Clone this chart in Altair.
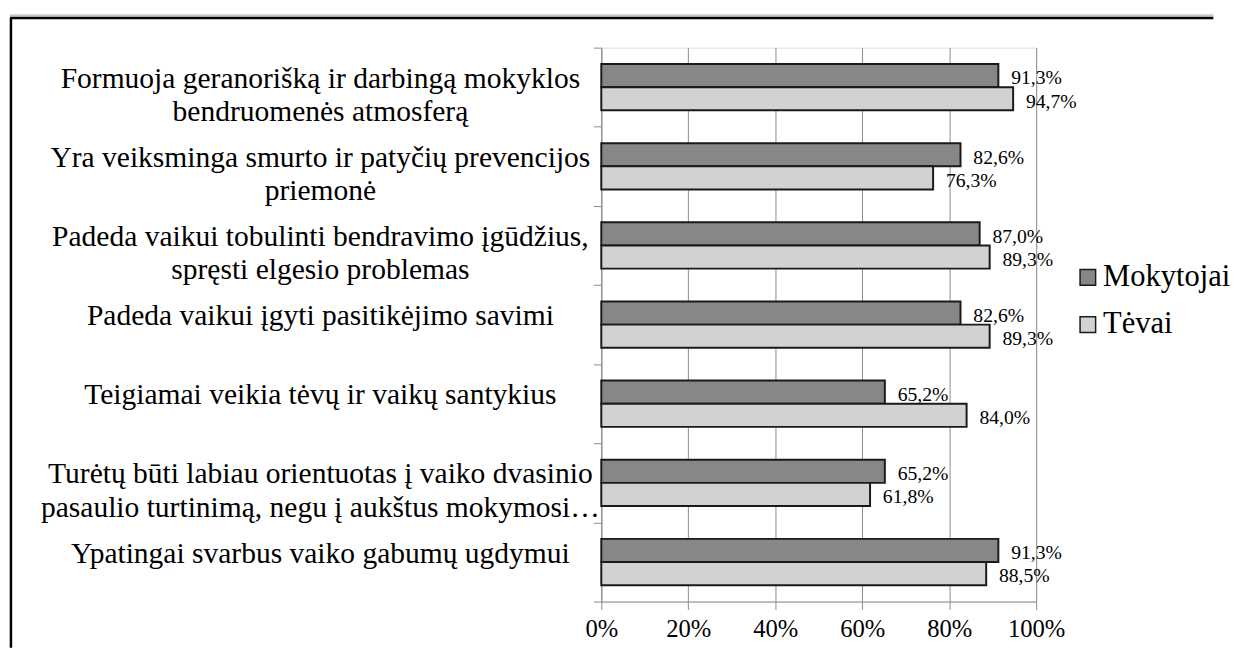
import altair as alt
import pandas as pd

categories = [
    "Formuoja geranorišką ir darbingą mokyklos|bendruomenės atmosferą",
    "Yra veiksminga smurto ir patyčių prevencijos|priemonė",
    "Padeda vaikui tobulinti bendravimo įgūdžius,|spręsti elgesio problemas",
    "Padeda vaikui įgyti pasitikėjimo savimi",
    "Teigiamai veikia tėvų ir vaikų santykius",
    "Turėtų būti labiau orientuotas į vaiko dvasinio|pasaulio turtinimą, negu į aukštus mokymosi…",
    "Ypatingai svarbus vaiko gabumų ugdymui",
]
series = ["Mokytojai", "Tėvai"]
mokytojai = [91.3, 82.6, 87.0, 82.6, 65.2, 65.2, 91.3]
tevai = [94.7, 76.3, 89.3, 89.3, 84.0, 61.8, 88.5]
x_ticks = [0, 20, 40, 60, 80, 100]

rows = []
for c, m, t in zip(categories, mokytojai, tevai):
    rows.append({"cat": c, "series": series[0], "v": m})
    rows.append({"cat": c, "series": series[1], "v": t})
df = pd.DataFrame(rows)

FONT = "'Liberation Serif', 'Times New Roman', serif"

y_enc = alt.Y(
    "cat:N",
    sort=categories,
    title=None,
    scale=alt.Scale(paddingInner=0, paddingOuter=0),
    axis=alt.Axis(
        labelExpr="split(datum.label, '|')",
        labelAlign="center",
        labelBaseline="alphabetic",
        labelPadding=278,
        labelLimit=0,
        labelFont=FONT,
        labelFontSize=30,
        labelLineHeight=34,
        labelColor="black",
        tickBand="extent",
        tickSize=8,
        tickColor="#8c8c8c",
        domainColor="#8c8c8c",
        grid=False,
    ),
)
yoff = alt.YOffset("series:N", sort=series, scale=alt.Scale(paddingInner=0, paddingOuter=0.71))

x_enc = alt.X(
    "v:Q",
    title=None,
    scale=alt.Scale(domain=[0, 100], nice=False),
    axis=alt.Axis(
        values=x_ticks,
        labelExpr="datum.value + '%'",
        labelFlush=False,
        labelFont=FONT,
        labelFontSize=25,
        labelColor="black",
        labelPadding=8,
        tickSize=8,
        tickColor="#8c8c8c",
        domainColor="#8c8c8c",
        grid=True,
        gridColor="#8c8c8c",
        gridWidth=1,
    ),
)

base = alt.Chart(df)

bars = base.mark_bar(stroke="#1a1a1a", strokeWidth=2).encode(
    y=y_enc,
    yOffset=yoff,
    x=x_enc,
    fill=alt.Fill(
        "series:N",
        sort=series,
        scale=alt.Scale(domain=series, range=["#878787", "#d2d2d2"]),
        legend=alt.Legend(
            title=None,
            orient="none",
            legendX=479,
            legendY=218,
            symbolType="square",
            symbolSize=250,
            symbolStrokeColor="#1a1a1a",
            symbolStrokeWidth=1.5,
            labelFont=FONT,
            labelFontSize=31,
            labelColor="black",
            labelOffset=0,
            rowPadding=16,
        ),
    ),
)

labels = base.transform_calculate(
    lab="replace(format(datum.v, '.1f'), '.', ',') + '%'"
).mark_text(align="left", baseline="middle", dx=13, dy=3, font=FONT, fontSize=20, color="black").encode(
    y=alt.Y("cat:N", sort=categories),
    yOffset=yoff,
    x=alt.X("v:Q"),
    text="lab:N",
)

one = alt.Chart(pd.DataFrame({"a": [0]}))
shadow = one.mark_rect(
    color=alt.Gradient(
        gradient="linear",
        stops=[alt.GradientStop(color="#ffffff", offset=0), alt.GradientStop(color="#9a9a9a", offset=1)],
        x1=0, x2=0, y1=0, y2=1,
    )
).encode(x=alt.value(-601), x2=alt.value(622), y=alt.value(-35), y2=alt.value(-31))
top_rule = one.mark_rule(color="black", strokeWidth=2.5).encode(
    x=alt.value(-601), x2=alt.value(622), y=alt.value(-30), y2=alt.value(-30)
)
left_rule = one.mark_rule(color="black", strokeWidth=2.5).encode(
    x=alt.value(-600), x2=alt.value(-600), y=alt.value(-30), y2=alt.value(610)
)

chart = (
    alt.layer(shadow, top_rule, left_rule, bars, labels)
    .properties(width=442, height=563, padding={"left": 0, "top": 0, "right": 0, "bottom": 0})
    .configure_view(stroke=None)
    .configure(background="white", font=FONT)
)

chart.save("out.html", embed_options={"renderer": "svg", "actions": False})
